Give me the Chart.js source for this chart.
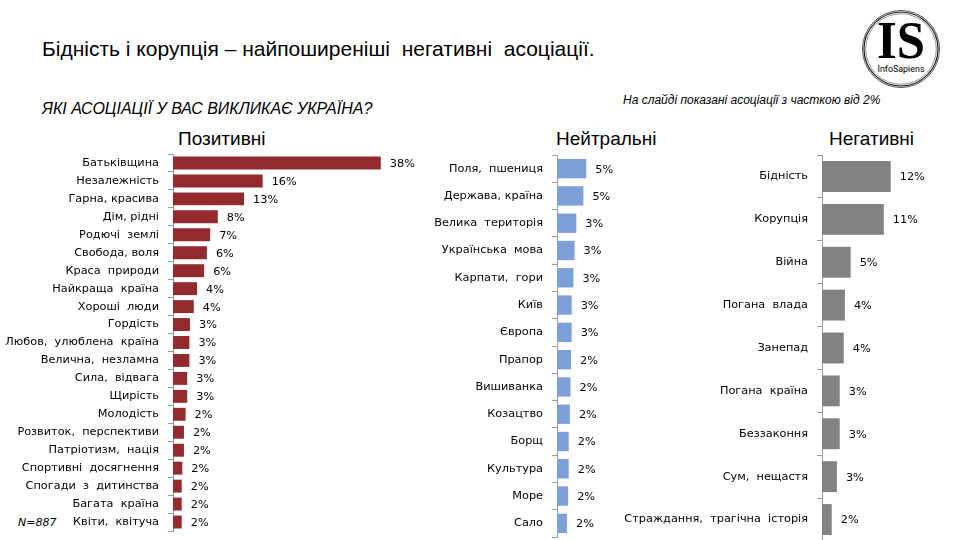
<!DOCTYPE html>
<html><head><meta charset="utf-8">
<script src="https://cdn.jsdelivr.net/npm/chart.js@4/dist/chart.umd.min.js"></script>
<style>
body{margin:0;width:960px;height:540px;background:#fff;position:relative;overflow:hidden;font-family:"Liberation Sans",Arial,sans-serif;}
.t{position:absolute;white-space:pre;color:#000;}
canvas{position:absolute;}
</style></head><body>
<div class="t" id="title" style="left:42px;top:37px;font-size:21px;">Бідність і корупція – найпоширеніші  негативні  асоціації.</div>
<div class="t" id="sub" style="left:42px;top:100px;font-size:16px;font-style:italic;font-family:'Liberation Sans Narrow','Liberation Sans',sans-serif;">ЯКІ АСОЦІАЦІЇ У ВАС ВИКЛИКАЄ УКРАЇНА?</div>
<div class="t" id="note" style="left:623px;top:93px;font-size:12px;font-style:italic;font-family:'Liberation Sans Narrow','Liberation Sans',sans-serif;">На слайді показані асоціації з часткою від 2%</div>
<div class="t" style="left:178px;top:128px;font-size:19px;">Позитивні</div>
<div class="t" style="left:556px;top:128px;font-size:19px;">Нейтральні</div>
<div class="t" style="left:829px;top:128px;font-size:19px;">Негативні</div>
<div class="t" style="left:18px;top:516px;font-size:11px;font-style:italic;font-family:'DejaVu Sans',sans-serif;">N=887</div>
<svg style="position:absolute;left:860px;top:8px;" width="84" height="84" viewBox="0 0 84 84">
  <circle cx="41" cy="41" r="38.5" fill="none" stroke="#444" stroke-width="0.9"/>
  <circle cx="41" cy="41" r="37" fill="none" stroke="#222" stroke-width="1.2"/>
  <circle cx="41" cy="41" r="35.3" fill="none" stroke="#666" stroke-width="0.7"/>
  <text x="41" y="50" text-anchor="middle" font-family="Liberation Serif,serif" font-weight="bold" font-size="53" textLength="48" lengthAdjust="spacingAndGlyphs" fill="#000">IS</text>
  <rect x="15" y="55" width="52" height="11" fill="#fff"/>
  <text x="41" y="63.5" text-anchor="middle" font-family="Roboto,Liberation Sans,sans-serif" font-size="9" textLength="47" lengthAdjust="spacingAndGlyphs" fill="#000">InfoSapiens</text>
</svg>
<canvas id="c1" width="430" height="390" style="left:0;top:150px;"></canvas>
<canvas id="c2" width="230" height="390" style="left:400px;top:150px;"></canvas>
<canvas id="c3" width="340" height="392" style="left:620px;top:150px;"></canvas>
<script>
const posLabels = ['Батьківщина','Незалежність','Гарна, красива','Дім, рідні','Родючі  землі','Свобода, воля','Краса  природи','Найкраща  країна','Хороші  люди','Гордість','Любов,  улюблена  країна','Велична,  незламна','Сила,  відвага','Щирість','Молодість','Розвиток,  перспективи','Патріотизм,  нація','Спортивні  досягнення','Спогади  з  дитинства','Багата  країна','Квіти,  квітуча'];
const posValues = [38.0,16.4,13.0,8.2,6.8,6.2,5.7,4.4,3.8,3.1,3.0,3.0,2.6,2.6,2.3,2.0,2.0,1.7,1.6,1.6,1.6];
const neuLabels = ['Поля,  пшениця','Держава, країна','Велика  територія','Українська  мова','Карпати,  гори','Київ','Європа','Прапор','Вишиванка','Козацтво','Борщ','Культура','Море','Сало'];
const neuValues = [5.0,4.5,3.3,3.0,2.8,2.5,2.5,2.4,2.3,2.2,2.0,2.0,1.9,1.7];
const negLabels = ['Бідність','Корупція','Війна','Погана  влада','Занепад','Погана  країна','Беззаконня','Сум,  нещастя','Страждання,  трагічна  історія'];
const negValues = [12.0,10.8,5.0,4.0,3.8,3.1,3.1,2.6,1.7];

const FONT = "'DejaVu Sans', Verdana, sans-serif";
const valueLabels = {
  id:'valueLabels',
  afterDatasetsDraw(chart){
    const ctx = chart.ctx;
    const meta = chart.getDatasetMeta(0);
    const data = chart.data.datasets[0].data;
    ctx.save();
    ctx.font = "11.3px " + FONT;
    ctx.fillStyle = '#000';
    ctx.textAlign = 'left';
    ctx.textBaseline = 'middle';
    meta.data.forEach((bar,i)=>{
      ctx.fillText(Math.round(data[i]) + '%', bar.x + 9, bar.y + 1);
    });
    ctx.restore();
  }
};

function makeChart(id, labels, values, color, max, axisWidth, pad, barPct){
  new Chart(document.getElementById(id), {
    type:'bar',
    data:{labels:labels, datasets:[{data:values, backgroundColor:color, borderWidth:0, barPercentage:barPct, categoryPercentage:1}]},
    options:{
      indexAxis:'y', responsive:false, animation:false,
      layout:{padding:pad},
      plugins:{legend:{display:false}, tooltip:{enabled:false}},
      scales:{
        x:{display:false, min:0, max:max},
        y:{
          afterFit(s){ s.width = axisWidth; s.paddingTop = 0; s.paddingBottom = 0; },
          border:{color:'#9a9a9a', width:1},
          grid:{drawOnChartArea:false, color:'#9a9a9a', tickLength:5, offset:true},
          ticks:{color:'#000', font:{family:FONT, size:11.3}, padding:9, autoSkip:false}
        }
      }
    },
    plugins:[valueLabels]
  });
}
makeChart('c1', posLabels, posValues, '#922A2E', 47, 173, {top:4,bottom:9,left:0,right:0}, 0.72);
makeChart('c2', neuLabels, neuValues, '#7DA0D8', 12.45, 157, {top:5,bottom:3,left:0,right:0}, 0.71);
makeChart('c3', negLabels, negValues, '#808284', 24.1, 202, {top:5,bottom:1,left:0,right:0}, 0.72);
</script>
</body></html>
